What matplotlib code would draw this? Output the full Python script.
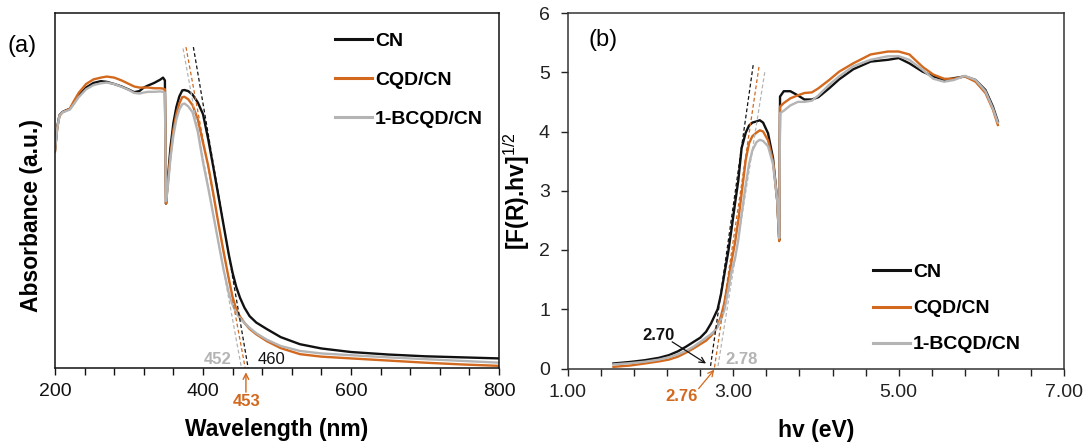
import numpy as np
import matplotlib
matplotlib.use('Agg')
import matplotlib.pyplot as plt
from matplotlib.ticker import FixedLocator, FuncFormatter

plt.rcParams['font.family'] = ['Liberation Sans', 'DejaVu Sans']
plt.rcParams['mathtext.fontset'] = 'custom'
plt.rcParams['mathtext.rm'] = 'Liberation Sans'
plt.rcParams['mathtext.it'] = 'Liberation Sans:italic'
plt.rcParams['mathtext.bf'] = 'Liberation Sans:bold'

# ---------------- data ----------------
series_names = ['CN', 'CQD/CN', '1-BCQD/CN']
colors = ['#111111', '#D2691E', '#B4B4B4']

# (a) absorbance vs wavelength (arbitrary units, 0..1 of axis)
wavelength = [200, 203, 206, 210, 215, 220, 225, 232, 242, 252,
              262, 270, 280, 290, 300, 307, 314, 320, 326, 334,
              342, 346, 348.5, 350, 352, 356, 360, 364, 368, 372,
              375, 380, 386, 393, 400, 407, 414, 421, 428, 435,
              440, 445, 450, 456, 463, 472, 486, 505, 531, 560,
              600, 650, 700, 750, 800]
abs_cn = [0.613, 0.679, 0.712, 0.721, 0.726, 0.730, 0.745, 0.768, 0.790, 0.803,
          0.808, 0.806, 0.800, 0.793, 0.784, 0.777, 0.780, 0.790, 0.796, 0.803,
          0.812, 0.818, 0.810, 0.463, 0.520, 0.620, 0.690, 0.735, 0.765, 0.782,
          0.783, 0.780, 0.770, 0.748, 0.715, 0.645, 0.565, 0.483, 0.400, 0.318,
          0.268, 0.228, 0.198, 0.170, 0.146, 0.128, 0.110, 0.087, 0.067, 0.055,
          0.045, 0.038, 0.033, 0.030, 0.027]
abs_cqd = [0.610, 0.675, 0.710, 0.720, 0.725, 0.730, 0.750, 0.775, 0.800, 0.813,
           0.818, 0.821, 0.818, 0.810, 0.800, 0.793, 0.790, 0.790, 0.790, 0.788,
           0.788, 0.787, 0.785, 0.463, 0.510, 0.600, 0.670, 0.715, 0.745, 0.763,
           0.764, 0.757, 0.740, 0.700, 0.635, 0.570, 0.490, 0.405, 0.325, 0.250,
           0.200, 0.165, 0.145, 0.127, 0.110, 0.095, 0.076, 0.056, 0.039, 0.032,
           0.027, 0.021, 0.015, 0.010, 0.006]
abs_bcqd = [0.615, 0.675, 0.710, 0.720, 0.724, 0.728, 0.742, 0.763, 0.785, 0.797,
            0.802, 0.804, 0.800, 0.792, 0.783, 0.775, 0.773, 0.776, 0.778, 0.778,
            0.779, 0.778, 0.775, 0.470, 0.500, 0.590, 0.655, 0.700, 0.728, 0.743,
            0.745, 0.737, 0.720, 0.665, 0.580, 0.508, 0.430, 0.352, 0.275, 0.210,
            0.178, 0.155, 0.140, 0.127, 0.113, 0.098, 0.080, 0.062, 0.048, 0.041,
            0.036, 0.030, 0.025, 0.020, 0.015]
# tangent lines (a): (x_top, y_top, x_intercept)
tangent_a = {'CN': (387, 0.904, 461), 'CQD/CN': (377, 0.904, 457), '1-BCQD/CN': (373, 0.900, 452)}
edge_labels_a = ['460', '453', '452']

# (b) Tauc plot
energy = [1.55, 1.75, 1.93, 2.10, 2.22, 2.33, 2.43, 2.52, 2.60, 2.67,
          2.73, 2.77, 2.81, 2.85, 2.89, 2.94, 2.98, 3.02, 3.06, 3.10,
          3.15, 3.19, 3.23, 3.28, 3.32, 3.36, 3.42, 3.48, 3.53, 3.555,
          3.565, 3.61, 3.69, 3.78, 3.86, 3.95, 4.03, 4.16, 4.28, 4.45,
          4.66, 4.87, 5.00, 5.13, 5.29, 5.42, 5.55, 5.67, 5.80, 5.93,
          6.05, 6.14, 6.20]
tauc_cn = [0.085, 0.11, 0.14, 0.18, 0.225, 0.29, 0.37, 0.45, 0.52, 0.62,
           0.76, 0.88, 1.00, 1.25, 1.58, 1.98, 2.37, 2.78, 3.17, 3.72,
           3.98, 4.10, 4.15, 4.17, 4.19, 4.15, 3.97, 3.55, 2.85, 2.17,
           4.59, 4.68, 4.68, 4.61, 4.54, 4.54, 4.58, 4.73, 4.88, 5.05,
           5.18, 5.21, 5.24, 5.15, 5.01, 4.93, 4.87, 4.90, 4.93, 4.87,
           4.70, 4.42, 4.17]
tauc_cqd = [0.028, 0.05, 0.085, 0.12, 0.15, 0.20, 0.27, 0.34, 0.41, 0.47,
            0.55, 0.62, 0.72, 0.88, 1.10, 1.50, 1.82, 2.12, 2.50, 2.95,
            3.52, 3.80, 3.92, 3.98, 4.02, 4.00, 3.85, 3.50, 2.85, 2.15,
            4.42, 4.48, 4.56, 4.61, 4.65, 4.66, 4.73, 4.87, 5.01, 5.15,
            5.30, 5.35, 5.35, 5.30, 5.09, 4.96, 4.89, 4.89, 4.93, 4.84,
            4.65, 4.37, 4.11]
tauc_bcqd = [0.07, 0.09, 0.115, 0.15, 0.19, 0.24, 0.30, 0.37, 0.45, 0.52,
             0.58, 0.63, 0.70, 0.82, 0.98, 1.33, 1.65, 1.85, 2.17, 2.60,
             3.10, 3.45, 3.68, 3.82, 3.86, 3.84, 3.75, 3.45, 2.85, 2.20,
             4.31, 4.35, 4.44, 4.50, 4.50, 4.52, 4.61, 4.79, 4.93, 5.10,
             5.21, 5.27, 5.27, 5.21, 5.04, 4.89, 4.84, 4.87, 4.94, 4.87,
             4.68, 4.39, 4.15]
tangent_b = {'CN': (3.24, 5.12, 2.72), 'CQD/CN': (3.31, 5.09, 2.77), '1-BCQD/CN': (3.38, 5.00, 2.81)}
gap_labels_b = ['2.70', '2.76', '2.78']

# ---------------- figure ----------------
W, H = 1086, 445
fig = plt.figure(figsize=(W / 100, H / 100), dpi=100)

def px_axes(x0, y0, x1, y1):
    return [x0 / W, 1 - y1 / H, (x1 - x0) / W, (y1 - y0) / H]

ax1 = fig.add_axes(px_axes(55, 13, 499, 368))
ax2 = fig.add_axes(px_axes(568, 13, 1064, 368.5))

lw = 1.7
abs_data = [abs_cn, abs_cqd, abs_bcqd]
tauc_data = [tauc_cn, tauc_cqd, tauc_bcqd]

# ---- panel (a)
for name, col, y in zip(series_names, colors, abs_data):
    ax1.plot(wavelength, y, color=col, lw=lw, label=name, solid_joinstyle='round')
for name, col in zip(series_names, colors):
    xt, yt, x0 = tangent_a[name]
    ax1.plot([xt, x0], [yt, 0], color=col, lw=0.9, ls=(0, (3, 2)), clip_on=False)

ax1.set_xlim(200, 800)
ax1.set_ylim(0, 1)
ax1.set_yticks([])
ax1.xaxis.set_major_locator(FixedLocator(np.arange(200, 801, 40)))
ax1.xaxis.set_major_formatter(FuncFormatter(lambda v, p: f'{v:.0f}' if abs(v % 200) < 1e-6 else ''))
ax1.tick_params(axis='x', direction='out', length=5, width=1, labelsize=14, pad=6, colors='#111111')
for s in ax1.spines.values():
    s.set_color('#111111')
    s.set_linewidth(1.1)
ax1.set_xlabel('Wavelength (nm)', fontsize=16.5, fontweight='bold', labelpad=13)
ax1.set_ylabel('Absorbance (a.u.)', fontsize=16.5, fontweight='bold')
ax1.yaxis.set_label_coords(-0.027, 0.43)

ax1.text(420, 0.025, edge_labels_a[2], color='#B4B4B4', fontsize=12, fontweight='bold', ha='center', va='center')
ax1.text(493, 0.025, edge_labels_a[0], color='#111111', fontsize=12, ha='center', va='center')
ax1.text(459, -0.093, edge_labels_a[1], color='#D2691E', fontsize=12, fontweight='bold', ha='center', va='center',
         clip_on=False)
ax1.annotate('', xy=(458, -0.012), xytext=(458, -0.068), annotation_clip=False,
             arrowprops=dict(arrowstyle='->', color='#D2691E', lw=1, shrinkA=0, shrinkB=0))

leg1 = ax1.legend(loc='upper left', bbox_to_anchor=(0.631, 0.945), frameon=False,
                  prop={'weight': 'bold', 'size': 14}, handlelength=1.9, handletextpad=0.15,
                  labelspacing=1.1, borderaxespad=0, borderpad=0)
for l in leg1.get_lines():
    l.set_linewidth(2.2)

fig.text(22 / W, 1 - 46 / H, '(a)', fontsize=17, ha='center', va='center')

# ---- panel (b)
for name, col, y in zip(series_names, colors, tauc_data):
    ax2.plot(energy, y, color=col, lw=lw, label=name, solid_joinstyle='round')
for name, col in zip(series_names, colors):
    xt, yt, x0 = tangent_b[name]
    ax2.plot([xt, x0], [yt, 0], color=col, lw=0.9, ls=(0, (3, 2)))

ax2.set_xlim(1, 7)
ax2.set_ylim(0, 6)
ax2.xaxis.set_major_locator(FixedLocator(np.arange(1.0, 7.001, 0.4)))
ax2.xaxis.set_major_formatter(FuncFormatter(lambda v, p: f'{v:.2f}' if abs((v - 1) / 2 - round((v - 1) / 2)) < 1e-6 else ''))
ax2.yaxis.set_major_locator(FixedLocator(np.arange(0, 6.01, 1)))
ax2.yaxis.set_major_formatter(FuncFormatter(lambda v, p: f'{v:.0f}'))
ax2.tick_params(axis='both', direction='out', length=5, width=1, labelsize=14, colors='#222222')
ax2.tick_params(axis='x', pad=6)
ax2.tick_params(axis='y', pad=8)
for s in ax2.spines.values():
    s.set_color('#333333')
    s.set_linewidth(1.1)
ax2.set_xlabel('hv (eV)', fontsize=16.5, fontweight='bold', labelpad=13)
ax2.set_ylabel(r'[F(R).hv]$^{1/2}$', fontsize=16.5, fontweight='bold')
ax2.yaxis.set_label_coords(-0.072, 0.5)

ax2.text(2.09, 0.56, gap_labels_b[0], color='#111111', fontsize=12, fontweight='bold', ha='center', va='center')
ax2.annotate('', xy=(2.67, 0.085), xytext=(2.26, 0.45),
             arrowprops=dict(arrowstyle='->', color='#111111', lw=0.9, shrinkA=0, shrinkB=0))
ax2.text(3.10, 0.15, gap_labels_b[2], color='#B4B4B4', fontsize=12, fontweight='bold', ha='center', va='center')
ax2.text(2.37, -0.47, gap_labels_b[1], color='#D2691E', fontsize=12, fontweight='bold', ha='center', va='center',
         clip_on=False)
ax2.annotate('', xy=(2.77, -0.02), xytext=(2.58, -0.34), annotation_clip=False,
             arrowprops=dict(arrowstyle='->', color='#D2691E', lw=0.9, shrinkA=0, shrinkB=0))

leg2 = ax2.legend(loc='upper left', bbox_to_anchor=(0.615, 0.295), frameon=False,
                  prop={'weight': 'bold', 'size': 14}, handlelength=1.9, handletextpad=0.15,
                  labelspacing=0.95, borderaxespad=0, borderpad=0)
for l in leg2.get_lines():
    l.set_linewidth(2.2)

fig.text(603 / W, 1 - 40 / H, '(b)', fontsize=17, ha='center', va='center')

fig.savefig('out.png', dpi=100)
